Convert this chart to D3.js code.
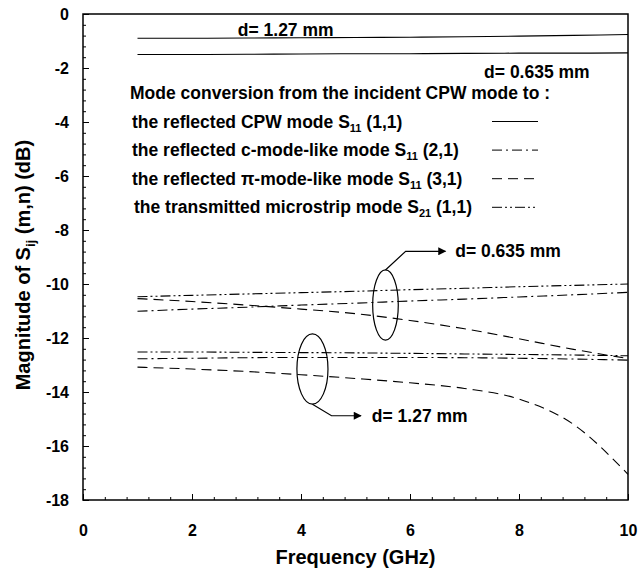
<!DOCTYPE html>
<html>
<head>
<meta charset="utf-8">
<script src="https://cdn.jsdelivr.net/npm/d3@7"></script>
<style>
	body { margin: 0; background: #fff; }
	text { font-family: "Liberation Sans", Arial, sans-serif; font-weight: bold; fill: #000; }
</style>
</head>
<body>
<div id="chart"></div>
<script>
// frequency points (GHz)
let freq = [1, 2, 3, 4, 5, 6, 7, 8, 9, 10];

// d = 1.27 mm
let d127_s11_11 = [-0.9, -0.9, -0.89, -0.88, -0.87, -0.86, -0.84, -0.82, -0.79, -0.76];
let d127_s11_21 = [-12.77, -12.75, -12.73, -12.72, -12.72, -12.72, -12.73, -12.75, -12.78, -12.82];
let d127_s11_31 = [-13.08, -13.15, -13.24, -13.36, -13.5, -13.66, -13.87, -14.26, -15.2, -17.05];
let d127_s21_11 = [-12.52, -12.52, -12.53, -12.54, -12.55, -12.57, -12.59, -12.61, -12.63, -12.66];

// d = 0.635 mm
let d0635_s11_11 = [-1.5, -1.5, -1.49, -1.48, -1.47, -1.47, -1.46, -1.45, -1.45, -1.44];
let d0635_s11_21 = [-11.01, -10.93, -10.86, -10.78, -10.71, -10.63, -10.56, -10.48, -10.4, -10.31];
let d0635_s11_31 = [-10.54, -10.65, -10.78, -10.93, -11.1, -11.35, -11.66, -12.03, -12.42, -12.76];
let d0635_s21_11 = [-10.47, -10.42, -10.37, -10.32, -10.27, -10.21, -10.16, -10.1, -10.05, -10.0];

let xTicks = [0, 2, 4, 6, 8, 10];
let yTicks = [0, -2, -4, -6, -8, -10, -12, -14, -16, -18];

let legendTitle = "Mode conversion from the incident CPW mode to :";
let legendLabels = [
	["the reflected CPW mode S", "11", " (1,1)"],
	["the reflected c-mode-like mode S", "11", " (2,1)"],
	["the reflected \u03c0-mode-like mode S", "11", " (3,1)"],
	["the transmitted microstrip mode S", "21", " (1,1)"],
];

let dashes = ["none", "10,4,2,4", "10,6", "10,3,2,3,2,3"];

let series = [
	{ values: d127_s11_11, style: 0 },
	{ values: d0635_s11_11, style: 0 },
	{ values: d127_s11_21, style: 1 },
	{ values: d127_s11_31, style: 2 },
	{ values: d127_s21_11, style: 3 },
	{ values: d0635_s11_21, style: 1 },
	{ values: d0635_s11_31, style: 2 },
	{ values: d0635_s21_11, style: 3 },
];

var w = 642,
	h = 578,
	margin = { top: 14, right: 14, bottom: 78, left: 83 },
	fontSize = "17.5px";

let svg = d3
	.select("#chart")
	.append("svg")
	.attr("width", w)
	.attr("height", h);

let x = d3.scaleLinear().domain([0, 10]).range([margin.left, w - margin.right]);
let y = d3.scaleLinear().domain([-18, 0]).range([h - margin.bottom, margin.top]);

// frame
svg
	.append("rect")
	.attr("x", x(0))
	.attr("y", y(0))
	.attr("width", x(10) - x(0))
	.attr("height", y(-18) - y(0))
	.attr("fill", "none")
	.attr("stroke", "#000")
	.attr("stroke-width", 1.5);

// axes (ticks inside)
let xAxis = svg
	.append("g")
	.attr("transform", "translate(0," + y(-18) + ")")
	.call(d3.axisBottom(x).tickValues(xTicks).tickSize(-6).tickPadding(25).tickFormat((d) => String(d)));
svg
	.append("g")
	.attr("transform", "translate(0," + y(-18) + ")")
	.call(d3.axisBottom(x).tickValues(d3.range(0, 10.01, 0.4)).tickSize(-3).tickFormat(""));

let yAxis = svg
	.append("g")
	.attr("transform", "translate(" + x(0) + ",0)")
	.call(d3.axisLeft(y).tickValues(yTicks).tickSize(-6).tickPadding(14).tickFormat((d) => String(d)));
svg
	.append("g")
	.attr("transform", "translate(" + x(0) + ",0)")
	.call(d3.axisLeft(y).tickValues(d3.range(-18, 0.01, 0.4)).tickSize(-3).tickFormat(""));

svg.selectAll(".domain").remove();
svg.selectAll(".tick line").attr("stroke", "#000").attr("stroke-width", 1);
svg.selectAll(".tick text")
	.style("font-size", "16px")
	.style("font-family", "Liberation Sans, Arial, sans-serif")
	.style("font-weight", "bold");

// axis titles
svg
	.append("text")
	.attr("x", (x(0) + x(10)) / 2)
	.attr("y", 564)
	.attr("text-anchor", "middle")
	.style("font-size", "20px")
	.text("Frequency (GHz)");

let yTitle = svg
	.append("text")
	.attr("transform", "translate(30," + y(-9.3) + ") rotate(-90)")
	.attr("text-anchor", "middle")
	.style("font-size", "20px");
yTitle.append("tspan").text("Magnitude of S");
yTitle.append("tspan").attr("dy", 5).style("font-size", "13px").text("ij");
yTitle.append("tspan").attr("dy", -5).text(" (m,n) (dB)");

// curves
let line = d3
	.line()
	.x((d, i) => x(freq[i]))
	.y((d) => y(d))
	.curve(d3.curveMonotoneX);

svg
	.selectAll(".curve")
	.data(series)
	.enter()
	.append("path")
	.attr("class", "curve")
	.attr("d", (d) => line(d.values))
	.attr("fill", "none")
	.attr("stroke", "#000")
	.attr("stroke-width", 1.1)
	.attr("stroke-dasharray", (d) => dashes[d.style]);

// legend
let legend = svg.append("g").attr("id", "legend");
legend
	.append("text")
	.attr("x", 130)
	.attr("y", 99)
	.style("font-size", fontSize)
	.text(legendTitle);

legendLabels.forEach(function (lab, i) {
	let ly = 121.5 + i * 28.6;
	let t = legend
		.append("text")
		.attr("x", 132 + (i == 3 ? 2 : 0))
		.attr("y", ly + 6)
		.style("font-size", fontSize);
	t.append("tspan").text(lab[0]);
	t.append("tspan").attr("dy", 4).style("font-size", "11px").text(lab[1]);
	t.append("tspan").attr("dy", -4).text(lab[2]);
	legend
		.append("line")
		.attr("x1", 492)
		.attr("x2", 538)
		.attr("y1", ly)
		.attr("y2", ly)
		.attr("stroke", "#000")
		.attr("stroke-width", 1)
		.attr("stroke-dasharray", dashes[i]);
});

// annotations
svg.append("defs")
	.append("marker")
	.attr("id", "arrow")
	.attr("viewBox", "0 0 10 10")
	.attr("refX", 9)
	.attr("refY", 5)
	.attr("markerWidth", 10)
	.attr("markerHeight", 8)
	.attr("markerUnits", "userSpaceOnUse")
	.attr("orient", "auto")
	.append("path")
	.attr("d", "M0,0L10,5L0,10Z")
	.attr("fill", "#000");

let ellipses = [
	{ cx: 5.55, cy: -10.78, rx: 0.235, ry: 1.3 },
	{ cx: 4.21, cy: -13.15, rx: 0.285, ry: 1.3 },
];
svg
	.selectAll(".ell")
	.data(ellipses)
	.enter()
	.append("ellipse")
	.attr("cx", (d) => x(d.cx))
	.attr("cy", (d) => y(d.cy))
	.attr("rx", (d) => x(d.rx) - x(0))
	.attr("ry", (d) => y(-d.ry) - y(0))
	.attr("fill", "none")
	.attr("stroke", "#000")
	.attr("stroke-width", 1.2);

let leaders = [
	[[5.55, -9.48], [5.92, -8.79], [6.65, -8.79]],
	[[4.21, -14.45], [4.56, -14.88], [5.1, -14.88]],
];
svg
	.selectAll(".leader")
	.data(leaders)
	.enter()
	.append("path")
	.attr("d", (d) => d3.line().x((p) => x(p[0])).y((p) => y(p[1]))(d))
	.attr("fill", "none")
	.attr("stroke", "#000")
	.attr("stroke-width", 1.2)
	.attr("marker-end", "url(#arrow)");

let notes = [
	{ fx: 6.83, db: -8.79, label: "d= 0.635 mm" },
	{ fx: 5.3, db: -14.88, label: "d= 1.27 mm" },
	{ fx: 2.84, db: -0.6, label: "d= 1.27 mm" },
	{ fx: 7.36, db: -2.13, label: "d= 0.635 mm" },
];
svg
	.selectAll(".note")
	.data(notes)
	.enter()
	.append("text")
	.attr("x", (d) => x(d.fx))
	.attr("y", (d) => y(d.db))
	.attr("dy", "0.35em")
	.style("font-size", fontSize)
	.text((d) => d.label);
</script>
</body>
</html>
